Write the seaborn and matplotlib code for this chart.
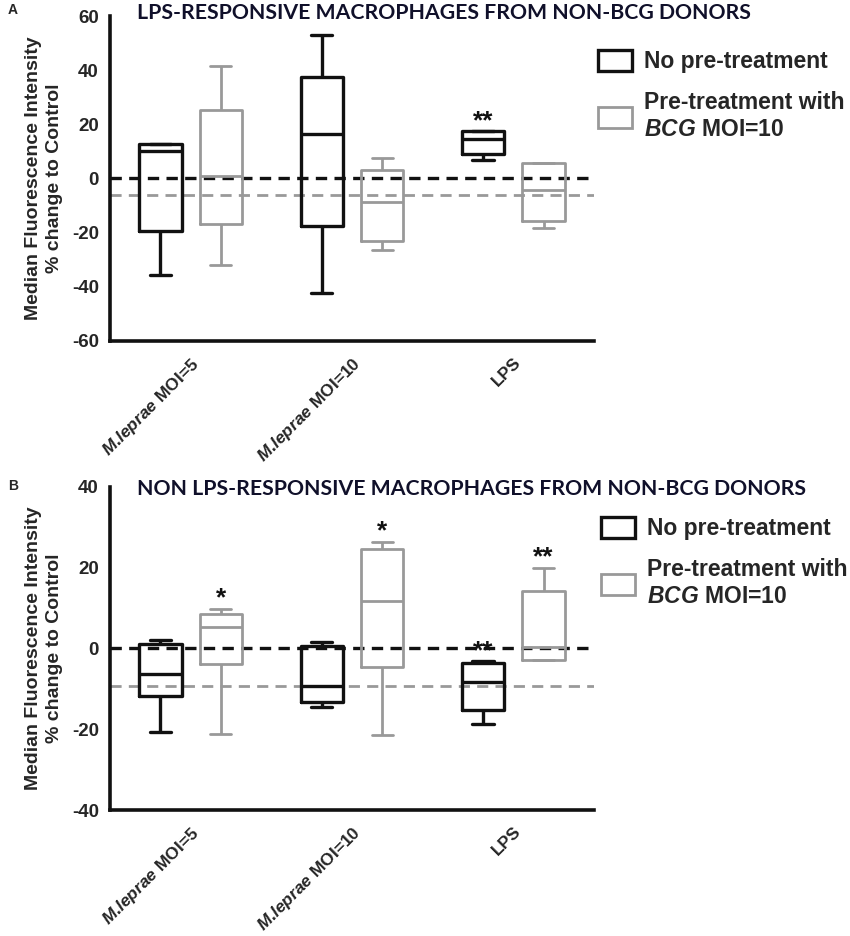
import pandas as pd
import numpy as np
import matplotlib
matplotlib.use("Agg")
import matplotlib.pyplot as plt
import seaborn as sns
from matplotlib.patches import Rectangle
from matplotlib.colors import to_hex

# categories / groups
conditions = ["M.leprae MOI=5", "M.leprae MOI=10", "LPS"]
tick_labels = [r"$\mathit{M}$.$\mathit{leprae}$ MOI=5", r"$\mathit{M}$.$\mathit{leprae}$ MOI=10", "LPS"]
groups = ["No pre-treatment", "Pre-treatment with BCG MOI=10"]
legend_labels = ["No pre-treatment", "Pre-treatment with\n$\\mathit{BCG}$ MOI=10"]

# five-number summaries (min, q1, median, q3, max)
a_none = [[-35.7, -19.5, 10.1, 12.8, 12.8],
          [-42.3, -17.7, 16.5, 37.5, 53.0],
          [6.9, 9.1, 14.7, 17.4, 17.4]]
a_bcg = [[-32.1, -16.8, 0.8, 25.4, 41.6],
         [-26.4, -22.9, -8.8, 3.3, 7.7],
         [-18.4, -15.6, -4.2, 5.8, 5.8]]
b_none = [[-20.7, -11.9, -6.3, 1.2, 2.0],
          [-14.4, -13.2, -9.4, 0.7, 1.6],
          [-18.8, -15.3, -8.2, -3.6, -3.2]]
b_bcg = [[-21.2, -3.8, 5.4, 8.5, 9.7],
         [-21.5, -4.6, 11.7, 24.7, 26.3],
         [-3.0, -3.0, 0.4, 14.1, 19.9]]

# reference lines (control = 0, grey dashed line)
a_ref = -6.0
b_ref = -9.2

# significance marks
a_sig_none = ["", "", "**"]
a_sig_bcg = ["", "", ""]
b_sig_none = ["", "", "**"]
b_sig_bcg = ["*", "*", "**"]

a_title = "LPS-RESPONSIVE MACROPHAGES FROM NON-BCG DONORS"
b_title = "NON LPS-RESPONSIVE MACROPHAGES FROM NON-BCG DONORS"
ylabel = "Median Fluorescence Intensity\n% change to Control"

BLACK = "#111111"
GREY = "#999999"
palette = {groups[0]: BLACK, groups[1]: GREY}
lw_map = {BLACK: 2.4, GREY: 2.0}


def long_frame(none_vals, bcg_vals):
    rows = []
    for cond, five in zip(conditions, none_vals):
        rows += [(cond, groups[0], v) for v in five]
    for cond, five in zip(conditions, bcg_vals):
        rows += [(cond, groups[1], v) for v in five]
    return pd.DataFrame(rows, columns=["condition", "group", "value"])


sns.set_style("white")
plt.rcParams["font.family"] = ["Liberation Sans", "DejaVu Sans"]
plt.rcParams["font.weight"] = "bold"
plt.rcParams["axes.unicode_minus"] = False
plt.rcParams["mathtext.fontset"] = "custom"
plt.rcParams["mathtext.rm"] = "Liberation Sans:bold"
plt.rcParams["mathtext.it"] = "Liberation Sans:italic:bold"
plt.rcParams["mathtext.bf"] = "Liberation Sans:bold"

fig = plt.figure(figsize=(8.5, 9.36), dpi=100)
axA = fig.add_axes([0.1294, 0.6357, 0.5694, 0.3472])
axB = fig.add_axes([0.1294, 0.1346, 0.5694, 0.3454])

box_width = 0.75
offsets = (np.arange(len(groups)) - 0.5) * box_width / len(groups)


def draw_panel(ax, none_vals, bcg_vals, ref, ylim, sig_none, sig_bcg):
    df = long_frame(none_vals, bcg_vals)
    ax.axhline(0, color=BLACK, ls=(0, (3.4, 2.2)), lw=1.5, zorder=1)
    ax.axhline(ref, color=GREY, ls=(0, (4, 2.6)), lw=1.2, zorder=1)
    sns.boxplot(data=df, x="condition", y="value", hue="group", order=conditions,
                hue_order=groups, palette=palette, fill=False, whis=(0, 100),
                width=box_width, gap=0.3, linewidth=2.4, showfliers=False,
                legend=False, ax=ax)
    for ln in ax.lines:
        c = to_hex(ln.get_color())
        if c in lw_map:
            ln.set_linewidth(lw_map[c])
    for p in ax.patches:
        c = to_hex(p.get_edgecolor())
        if c in lw_map:
            p.set_linewidth(lw_map[c])

    for gi, (vals, sigs) in enumerate([(none_vals, sig_none), (bcg_vals, sig_bcg)]):
        for ci, (five, s) in enumerate(zip(vals, sigs)):
            if s:
                ax.annotate(s, (ci + offsets[gi], max(five)), xytext=(0, 2.5),
                            textcoords="offset points", ha="center", va="baseline",
                            fontsize=19, fontweight="bold", color=BLACK)

    ax.set_xlim(-0.5, 2.5)
    ax.set_ylim(*ylim)
    ax.set_yticks(np.arange(ylim[0], ylim[1] + 1, 20))
    ax.set_xticks(range(len(conditions)))
    ax.set_xticklabels(tick_labels, rotation=45, ha="right", rotation_mode="anchor",
                       fontsize=12.5, fontweight="bold")
    ax.tick_params(axis="y", labelsize=13.5, width=2.4, length=6, color=BLACK, pad=2)
    ax.tick_params(axis="x", width=2.4, length=6, color=BLACK, pad=4)
    ax.set_xlabel("")
    ax.set_ylabel(ylabel, fontsize=14, fontweight="bold", linespacing=1.3)
    ax.yaxis.set_label_coords(-0.097, 0.5)
    for side in ["top", "right"]:
        ax.spines[side].set_visible(False)
    for side in ["left", "bottom"]:
        ax.spines[side].set_linewidth(2.6)
        ax.spines[side].set_color(BLACK)

    handles = [Rectangle((0, 0), 1, 1, facecolor="white", edgecolor=palette[g],
                         linewidth=lw_map[palette[g]]) for g in groups]
    return handles


hA = draw_panel(axA, a_none, a_bcg, a_ref, (-60, 60), a_sig_none, a_sig_bcg)
hB = draw_panel(axB, b_none, b_bcg, b_ref, (-40, 40), b_sig_none, b_sig_bcg)

legend_kw = dict(loc="upper left", frameon=False, borderpad=0,
                 borderaxespad=0, handlelength=1.5, handleheight=1.0,
                 handletextpad=0.5, labelspacing=0.8,
                 prop={"weight": "bold", "size": 16.5})
fig.legend(hA, legend_labels, bbox_to_anchor=(598 / 850, 1 - 50 / 936), **legend_kw)
fig.legend(hB, legend_labels, bbox_to_anchor=(601 / 850, 1 - 517 / 936), **legend_kw)

fig.text(137 / 850, 1 - 13 / 936, a_title, family="Lato", fontweight="bold",
         fontsize=15.3, va="center", ha="left", color="#10102a")
fig.text(137 / 850, 1 - 489 / 936, b_title, family="Lato", fontweight="bold",
         fontsize=15.3, va="center", ha="left", color="#10102a")
fig.text(8 / 850, 1 - 10 / 936, "A", fontsize=10, fontweight="bold", va="center")
fig.text(8 / 850, 1 - 486 / 936, "B", fontsize=10, fontweight="bold", va="center")

fig.savefig("out.png", dpi=100)
